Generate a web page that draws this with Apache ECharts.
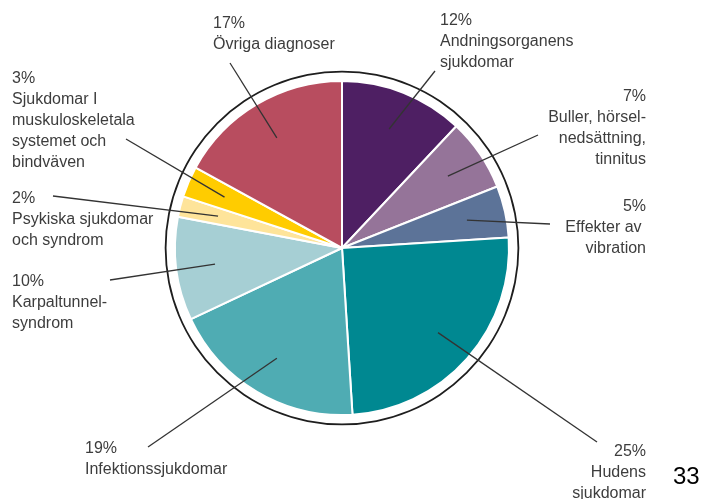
<!DOCTYPE html>
<html>
<head>
<meta charset="utf-8">
<script src="https://cdn.jsdelivr.net/npm/echarts@6/dist/echarts.min.js"></script>
<style>
html,body{margin:0;padding:0;background:#fff;}
#c{width:701px;height:499px;}
</style>
</head>
<body>
<div id="c"></div>
<script>
// ---- data ----
const categories = [
  'Andningsorganens\nsjukdomar',
  'Buller, hörsel-\nnedsättning,\ntinnitus',
  'Effekter av \nvibration',
  'Hudens\nsjukdomar',
  'Infektionssjukdomar',
  'Karpaltunnel-\nsyndrom',
  'Psykiska sjukdomar\noch syndrom',
  'Sjukdomar I\nmuskuloskeletala\nsystemet och\nbindväven',
  'Övriga diagnoser'
];
const values = [12, 7, 5, 25, 19, 10, 2, 3, 17];
const pageNumber = '33';

// ---- style ----
const colors = ['#4E1F63', '#957499', '#5C7398', '#008891', '#4FACB3',
                '#A6CFD4', '#FEE49A', '#FFCC00', '#B84D5F'];
// label layout: [x, y(top of block), align, line end x, line end y]
const labelPos = [
  [440, 10, 'left', 435, 71],
  [646, 86, 'right', 538, 135],
  [646, 196, 'right', 550, 224],
  [646, 441, 'right', 597, 442],
  [85, 438, 'left', 148, 447],
  [12, 271, 'left', 110, 280],
  [12, 188, 'left', 53, 196],
  [12, 68, 'left', 126, 139],
  [213, 13, 'left', 230, 63]
];
const center = [342, 248];
const textColor = '#3d3d3d';

const chart = echarts.init(document.getElementById('c'), null, {renderer: 'canvas'});
const pieData = categories.map((n, i) => ({
  name: n, value: values[i], itemStyle: {color: colors[i]}
}));

chart.setOption({
  animation: false,
  title: {
    text: pageNumber, left: 673, top: 465, padding: 0,
    textStyle: {fontFamily: 'Liberation Sans', fontSize: 24, fontWeight: 'normal', color: '#000'}
  },
  series: [
    {
      type: 'pie', z: 1, center: center, radius: [0, 167], startAngle: 90, clockwise: true,
      silent: true, data: pieData,
      itemStyle: {borderColor: '#fff', borderWidth: 2},
      label: {show: false}, labelLine: {show: false}
    },
    {
      type: 'pie', z: 2, center: center, radius: [175.5, 177.3], silent: true,
      data: [{value: 1, itemStyle: {color: '#1e1e1e'}}],
      label: {show: false}, labelLine: {show: false}
    },
    {
      type: 'pie', z: 5, center: center, radius: [0, 128], startAngle: 90, clockwise: true,
      silent: true, avoidLabelOverlap: false,
      data: categories.map((n, i) => ({name: n, value: values[i]})),
      itemStyle: {color: 'rgba(0,0,0,0)', borderWidth: 0},
      label: {
        show: true, position: 'outside', overflow: 'none',
        formatter: p => p.value + '%\n' + p.name,
        fontFamily: 'Liberation Sans', fontSize: 16, lineHeight: 21, color: textColor
      },
      labelLine: {show: true, length: 10, length2: 10, lineStyle: {color: '#333', width: 1.3}},
      labelLayout: function (params) {
        const lp = labelPos[params.dataIndex];
        const pts = params.labelLinePoints;
        const start = pts && pts.length ? pts[0] : [center[0], center[1]];
        return {
          x: lp[0], y: lp[1], align: lp[2], verticalAlign: 'top',
          labelLinePoints: [start, [lp[3], lp[4]]]
        };
      }
    }
  ]
});
</script>
</body>
</html>
